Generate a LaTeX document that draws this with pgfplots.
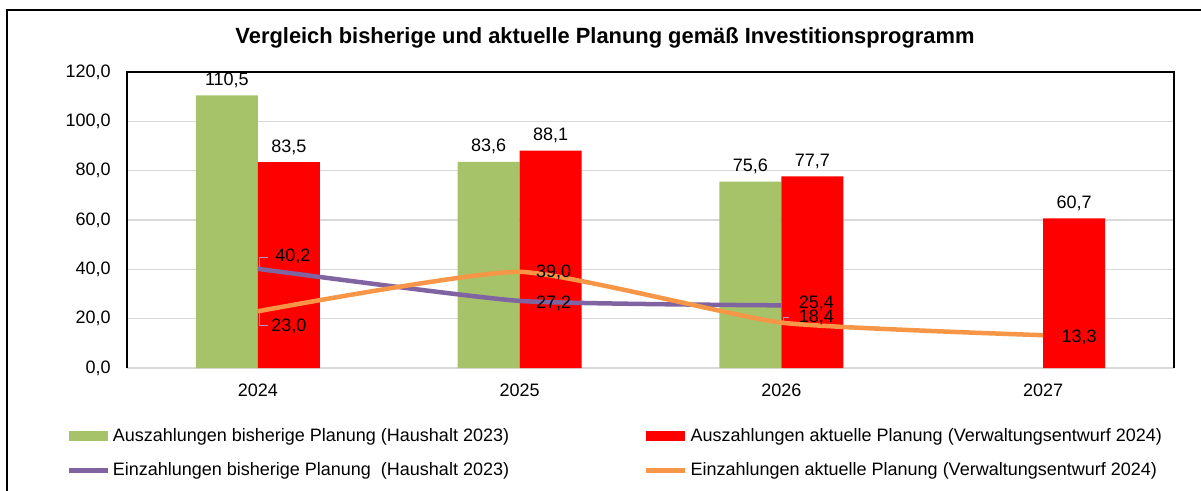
\documentclass[border=0pt]{standalone}
\usepackage{pgfplots}
\pgfplotsset{compat=1.18}
\usepackage{fontspec}
\setmainfont{Liberation Sans}
\definecolor{cgreen}{HTML}{A6C36A}
\definecolor{cred}{HTML}{FF0000}
\definecolor{cpurple}{HTML}{8064A2}
\definecolor{corange}{HTML}{F79646}
\definecolor{cgrid}{HTML}{D9D9D9}
\newcommand{\lab}{\fontsize{9bp}{11bp}\selectfont}
\begin{document}
\begin{tikzpicture}
\useasboundingbox (0,0) rectangle (600.5bp,-245.5bp);
\draw[line width=1.25bp] (3.5bp,-246bp) -- (3.5bp,-5bp) -- (601bp,-5bp);
\node at (302.5bp,-19bp) {\resizebox{369.5bp}{\height}{\fontsize{11bp}{13bp}\selectfont\bfseries Vergleich bisherige und aktuelle Planung gemäß Investitionsprogramm}};
\begin{axis}[
  at={(63.5bp,-184bp)}, anchor=south west,
  width=523.5bp, height=148bp, scale only axis,
  xmin=-0.5, xmax=3.5, ymin=0, ymax=120,
  xtick={0,1,2,3}, xticklabels={2024,2025,2026,2027},
  ytick={0,20,...,120},
  major tick length=0pt,
  ymajorgrids, grid style={draw=cgrid, line width=0.75bp},
  axis line style={draw=none},
  /pgf/number format/assume math mode=true,
  yticklabel style={/pgf/number format/fixed, /pgf/number format/fixed zerofill, /pgf/number format/precision=1, /pgf/number format/use comma},
  y tick label style={font=\lab, inner sep=0pt, xshift=-8bp},
  x tick label style={font=\lab, inner sep=0pt, yshift=-8bp},
  clip=false,
  legend columns=2,
  legend cell align=left,
  legend style={at={(axis description cs:-0.0583,-0.192)}, anchor=north west,
    draw=none, fill=none, font=\lab, row sep=6bp, inner sep=0pt,
    nodes={inner sep=1.5bp},
    /tikz/column 2/.style={column sep=66bp}},
  nodes near coords={\pgfmathprintnumber[fixed,fixed zerofill,precision=1,use comma,assume math mode=true]{\pgfplotspointmeta}},
]
\addplot[ybar, bar width=31bp, bar shift=-15.5bp, fill=cgreen, draw=none,
  every node near coord/.append style={font=\lab, anchor=base, yshift=5bp, xshift=-15.5bp, inner sep=0pt},
  legend image code/.code={\fill[cgreen] (0pt,-2.5bp) rectangle (19.5bp,2.5bp);}]
  coordinates {(0,110.5) (1,83.6) (2,75.6)};
\addlegendentry{Auszahlungen bisherige Planung (Haushalt 2023)}
\addplot[ybar, bar width=31bp, bar shift=15.5bp, fill=cred, draw=none,
  every node near coord/.append style={font=\lab, anchor=base, yshift=5bp, xshift=15.5bp, inner sep=0pt},
  legend image code/.code={\fill[cred] (0pt,-2.5bp) rectangle (19.5bp,2.5bp);}]
  coordinates {(0,83.5) (1,88.1) (2,77.7) (3,60.7)};
\addlegendentry{Auszahlungen aktuelle Planung (Verwaltungsentwurf 2024)}
\addplot[smooth, tension=0.3, no marks, nodes near coords={}, draw=cpurple, line width=2.25bp,
  legend image code/.code={\draw[cpurple, line width=2.25bp] (0pt,0pt) -- (19.5bp,0pt);}]
  coordinates {(0,40.2) (1,27.2) (2,25.4)};
\addlegendentry{Einzahlungen bisherige Planung\ \ (Haushalt 2023)}
\addplot[smooth, tension=0.3, no marks, nodes near coords={}, draw=corange, line width=2.25bp,
  legend image code/.code={\draw[corange, line width=2.25bp] (0pt,0pt) -- (19.5bp,0pt);}]
  coordinates {(0,23.0) (1,39.0) (2,18.4) (3,13.3)};
\addlegendentry{Einzahlungen aktuelle Planung (Verwaltungsentwurf 2024)}
% axis frame
\draw[black, line width=0.75bp] (rel axis cs:0,0) -- (rel axis cs:0,1) -- (rel axis cs:1,1) -- (rel axis cs:1,0);
% line labels
\draw[gray!70, line width=0.6bp] ([xshift=1bp,yshift=1bp]axis cs:0,40.2) -- ++(0pt,4.5bp) -- ++(4bp,0pt);
\node[font=\lab, anchor=west, inner sep=0pt] at ([xshift=8.5bp,yshift=6bp]axis cs:0,40.2) {40,2};
\draw[gray!70, line width=0.6bp] ([xshift=1bp,yshift=-1bp]axis cs:0,23.0) -- ++(0pt,-6bp) -- ++(4bp,0pt);
\node[font=\lab, anchor=west, inner sep=0pt] at ([xshift=6.5bp,yshift=-7.5bp]axis cs:0,23.0) {23,0};
\node[font=\lab, anchor=west, inner sep=0pt] at ([xshift=8bp,yshift=-0.5bp]axis cs:1,39.0) {39,0};
\node[font=\lab, anchor=west, inner sep=0pt] at ([xshift=8bp,yshift=-1bp]axis cs:1,27.2) {27,2};
\node[font=\lab, anchor=west, inner sep=0pt] at ([xshift=8.5bp,yshift=1bp]axis cs:2,25.4) {25,4};
\draw[gray!70, line width=0.6bp] ([xshift=1bp,yshift=0.5bp]axis cs:2,18.4) -- ++(0pt,2bp) -- ++(3bp,0pt);
\node[font=\lab, anchor=west, inner sep=0pt] at ([xshift=8.5bp,yshift=2.5bp]axis cs:2,18.4) {18,4};
\node[font=\lab, anchor=west, inner sep=0pt] at ([xshift=9bp,yshift=-1bp]axis cs:3,13.3) {13,3};
\end{axis}
\end{tikzpicture}
\end{document}
